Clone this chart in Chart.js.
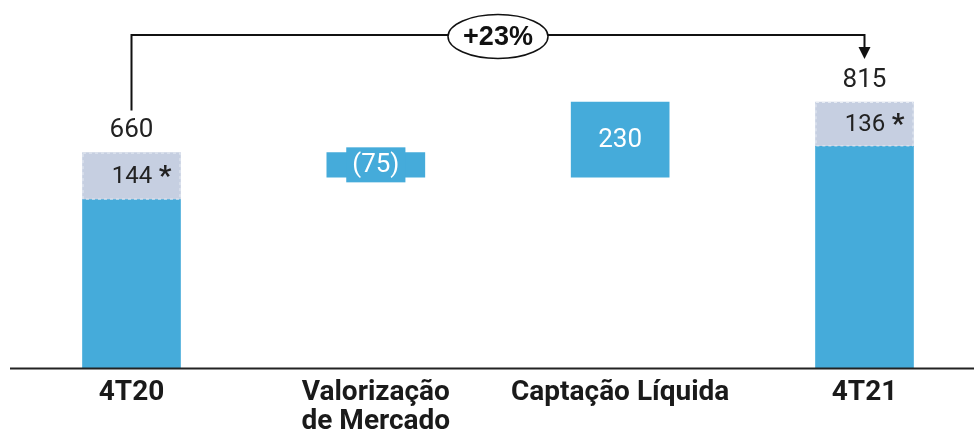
<!DOCTYPE html>
<html>
<head>
<meta charset="utf-8">
<script src="https://cdn.jsdelivr.net/npm/chart.js@4"></script>
<style>
  html, body { margin: 0; padding: 0; background: #ffffff; }
  #wrap { width: 974px; height: 434px; position: relative; }
</style>
</head>
<body>
<div id="wrap"><canvas id="c"></canvas></div>
<script>
// ---- Data ----
const categories = ['4T20', ['Valorização', 'de Mercado'], 'Captação Líquida', '4T21'];
const totalValues = [660, null, null, 815];
const starValues = [144, null, null, 136];
const changeValues = [null, -75, 230, null];
const growthLabel = '+23%';

// ---- Derived series ----
const baseData = totalValues.map((t, i) => t == null ? null : [0, t - starValues[i]]);
const starData = totalValues.map((t, i) => t == null ? null : [t - starValues[i], t]);
let running = 0;
const changeData = categories.map((c, i) => {
  if (totalValues[i] != null) { running = totalValues[i]; return null; }
  const v = changeValues[i];
  const r = [Math.min(running, running + v), Math.max(running, running + v)];
  running += v;
  return r;
});
const fmt = v => v < 0 ? '(' + Math.abs(v) + ')' : String(v);

const BLUE = '#45abda';
const LIGHT = '#c6cfe1';
const DARK = '#222222';

const labelPlugin = {
  id: 'wfLabels',
  afterDatasetsDraw(chart) {
    const ctx = chart.ctx;
    const y = chart.scales.y;
    const starMeta = chart.getDatasetMeta(1);
    const changeMeta = chart.getDatasetMeta(2);
    ctx.save();
    // baseline
    ctx.strokeStyle = DARK;
    ctx.lineWidth = 2;
    ctx.beginPath();
    const by = Math.round(y.getPixelForValue(0)) + 0.5;
    ctx.moveTo(10, by); ctx.lineTo(974, by);
    ctx.stroke();

    ctx.textAlign = 'center';
    ctx.textBaseline = 'middle';
    const totalEls = [];
    starMeta.data.forEach((el, i) => {
      if (starData[i] == null) return;
      const top = Math.min(el.y, el.base), bot = Math.max(el.y, el.base);
      const left = el.x - el.width / 2;
      // dashed border
      ctx.save();
      ctx.strokeStyle = '#e6ebf3';
      ctx.lineWidth = 1;
      ctx.setLineDash([3, 3]);
      ctx.strokeRect(left + 0.5, top + 0.5, el.width - 1, bot - top - 1);
      ctx.restore();
      // star label
      const cy = (top + bot) / 2;
      ctx.fillStyle = DARK;
      ctx.font = '24px Roboto';
      ctx.fillText(String(starValues[i]), el.x + 0.5, cy + 1);
      ctx.font = 'bold 28px Roboto';
      ctx.fillText('*', el.x + 33.5, cy + 2);
      // total label
      ctx.font = '26px Roboto';
      ctx.fillText(String(totalValues[i]), el.x, top - 22);
      totalEls.push({ x: el.x, top });
    });

    changeMeta.data.forEach((el, i) => {
      if (changeData[i] == null) return;
      const top = Math.min(el.y, el.base), bot = Math.max(el.y, el.base);
      const cy = (top + bot) / 2;
      const txt = fmt(changeValues[i]);
      ctx.font = '26px Roboto';
      if (changeValues[i] < 0) {
        const w = ctx.measureText(txt).width + 12;
        ctx.fillStyle = BLUE;
        ctx.fillRect(el.x - w / 2, cy - 17.5, w, 35);
      }
      ctx.fillStyle = '#ffffff';
      ctx.fillText(txt, el.x, cy + 1);
    });

    // growth bracket
    if (totalEls.length === 2) {
      const a = totalEls[0], b = totalEls[1];
      const ly = 35;
      ctx.strokeStyle = '#111111';
      ctx.lineWidth = 2;
      ctx.beginPath();
      ctx.moveTo(a.x, a.top - 42);
      ctx.lineTo(a.x, ly);
      ctx.lineTo(b.x, ly);
      ctx.lineTo(b.x, b.top - 54);
      ctx.stroke();
      ctx.fillStyle = '#111111';
      ctx.beginPath();
      ctx.moveTo(b.x - 6, b.top - 55);
      ctx.lineTo(b.x + 6, b.top - 55);
      ctx.lineTo(b.x, b.top - 43);
      ctx.closePath();
      ctx.fill();
      const mx = (a.x + b.x) / 2;
      ctx.fillStyle = '#ffffff';
      ctx.lineWidth = 1.5;
      ctx.beginPath();
      ctx.ellipse(mx, 36.5, 50, 22, 0, 0, Math.PI * 2);
      ctx.fill();
      ctx.stroke();
      ctx.fillStyle = '#111111';
      ctx.font = 'bold 27px "Liberation Sans", Arial, sans-serif';
      ctx.fillText(growthLabel, mx, 38);
    }
    ctx.restore();
  }
};

new Chart(document.getElementById('c'), {
  type: 'bar',
  data: {
    labels: categories,
    datasets: [
      { label: 'base', data: baseData, backgroundColor: BLUE, clip: false },
      { label: 'star', data: starData, backgroundColor: LIGHT, clip: false },
      { label: 'change', data: changeData, backgroundColor: BLUE, clip: false }
    ]
  },
  options: {
    responsive: true,
    maintainAspectRatio: false,
    animation: false,
    layout: { padding: { left: 131.5, right: 109.5, top: 9, bottom: 0 } },
    datasets: { bar: { grouped: false, barThickness: 98 } },
    plugins: { legend: { display: false }, tooltip: { enabled: false } },
    scales: {
      x: {
        offset: false,
        grid: { display: false, drawTicks: false },
        border: { display: false },
        ticks: {
          color: '#1a1a1a',
          font: { family: 'Roboto', weight: 'bold', size: 28, lineHeight: 1.03 },
          padding: 11,
          maxRotation: 0,
          autoSkip: false
        },
        afterFit(scale) { scale.height = 66; }
      },
      y: {
        display: false,
        min: 0,
        max: 1100
      }
    }
  },
  plugins: [labelPlugin]
});
</script>
</body>
</html>
